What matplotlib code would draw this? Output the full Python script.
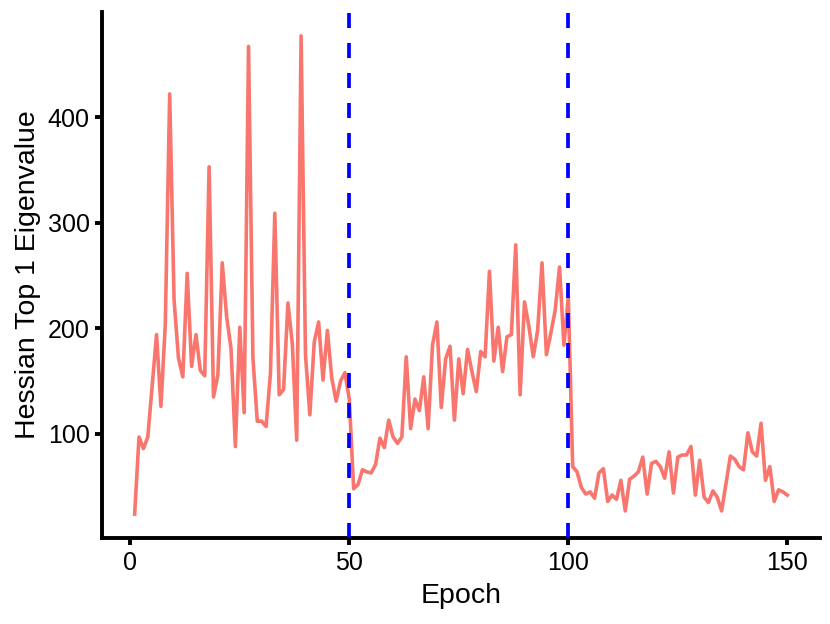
import matplotlib
matplotlib.use("Agg")
import matplotlib.pyplot as plt
import numpy as np

plt.rcParams['font.family'] = ['Liberation Sans', 'DejaVu Sans']

# top-1 Hessian eigenvalue per epoch
eig_1_50 = [24, 97, 86, 97, 145, 194, 126, 204, 422, 227,
            172, 154, 252, 164, 194, 160, 155, 353, 135, 156,
            262, 211, 181, 88, 201, 120, 467, 172, 112, 112,
            107, 157, 309, 137, 142, 224, 185, 94, 477, 175,
            118, 187, 206, 151, 198, 153, 131, 150, 158, 133]
eig_51_100 = [48, 52, 66, 64, 63, 71, 96, 87, 113, 97,
              91, 97, 173, 105, 133, 122, 154, 105, 184, 206,
              125, 171, 183, 113, 171, 138, 180, 159, 140, 178,
              173, 254, 169, 201, 159, 192, 194, 279, 137, 225,
              202, 173, 198, 262, 175, 195, 217, 258, 184, 230]
eig_101_150 = [69, 64, 49, 43, 45, 39, 63, 67, 36, 42,
               38, 56, 27, 57, 60, 64, 78, 43, 72, 74,
               69, 58, 83, 44, 78, 80, 80, 88, 42, 75,
               40, 35, 46, 40, 27, 53, 79, 76, 69, 66,
               101, 83, 79, 110, 56, 69, 36, 47, 45, 42]
eigen = eig_1_50 + eig_51_100 + eig_101_150
epochs = np.arange(1, len(eigen) + 1)
phase_breaks = [50, 100]

fig = plt.figure(figsize=(8.3, 6.24), dpi=100)
ax = fig.add_axes([0.1229, 0.1378, 0.865, 0.843])

ax.plot(epochs, eigen, color="#F8766D", lw=2.6, zorder=2)
for b in phase_breaks:
    ax.axvline(b, color="blue", lw=2.7, linestyle=(0, (4, 4)), zorder=3)

# ggplot-style expansion of the data range
rng = max(eigen) - min(eigen)
ax.set_ylim(min(eigen) - 0.05 * rng, max(eigen) + 0.05 * rng)
ax.set_xlim(1 - 0.05 * 149, 150 + 0.05 * 149)
ax.set_xticks([0, 50, 100, 150])
ax.set_yticks([100, 200, 300, 400])

for s in ["top", "right"]:
    ax.spines[s].set_visible(False)
for s in ["left", "bottom"]:
    ax.spines[s].set_linewidth(2.8)
ax.tick_params(width=2.8, length=5, labelsize=18, pad=4, color="black")

ax.set_xlabel("Epoch", fontsize=20.5, labelpad=6)
ax.set_ylabel("Hessian Top 1 Eigenvalue", fontsize=20.5, labelpad=5)

fig.savefig("out.png", dpi=100)
